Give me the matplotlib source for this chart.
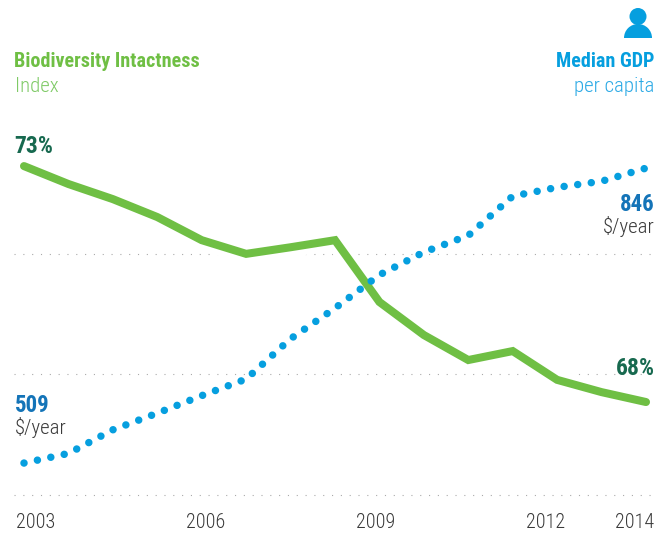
import matplotlib
matplotlib.use('Agg')
import matplotlib.pyplot as plt
from matplotlib.patches import Circle, Wedge

plt.rcParams['lines.scale_dashes'] = False

# one point every 0.786 yr, the source has 15 samples over 2003-2014
steps = list(range(15))
biodiversity = [73.0, 72.62, 72.30, 71.92, 71.43, 71.14, 71.28, 71.43,
                70.12, 69.42, 68.89, 69.08, 68.47, 68.21, 68.0]
gdp = [509, 520, 547, 566, 586, 605, 651, 686, 724, 750, 769, 814, 824, 831, 846]
year_labels = ['2003', '2006', '2009', '2012', '2014']
year_pos = [0.27, 4.09, 7.92, 11.73, 13.74]
grid_levels = [71.14, 68.59, 66.03]

GREEN = '#6fbf44'
LIGHT_GREEN = '#7fca66'
DARK_GREEN = '#17694f'
BLUE = '#069fdf'
LIGHT_BLUE = '#2aa9e5'
DARK_BLUE = '#1474b8'
GREY = '#3a3a3a'
NARROW = ['Roboto Condensed', 'Roboto', 'DejaVu Sans']

fig = plt.figure(figsize=(6.7, 5.33), dpi=100)

# axes box: x 24-646 px, y 134-495 px
ax = fig.add_axes([24 / 670, 38 / 533, 622 / 670, 361 / 533])
ax.set_xlim(0, 14)
ax.set_ylim(66.03, 73.68)
ax.patch.set_alpha(0)
for s in ax.spines.values():
    s.set_visible(False)
ax.set_yticks([])
ax.set_xticks(year_pos)
ax.set_xticklabels(year_labels, fontfamily=NARROW, fontweight=300, fontsize=14.5, color=GREY)
ax.tick_params(axis='x', length=0, pad=13)

ax.hlines(grid_levels, -0.225, 14.18, color='#aaaaaa', lw=0.8,
          linestyles=[(0, (0.8, 5.55))], clip_on=False, zorder=1)
ax.plot(steps, biodiversity, color='white', lw=14.4, solid_capstyle='round',
        clip_on=False, zorder=2)
ax.plot(steps, biodiversity, color=GREEN, lw=5.8, solid_capstyle='round',
        solid_joinstyle='miter', clip_on=False, zorder=3)

ax2 = ax.twinx()
ax2.set_ylim(472.5, 885)
ax2.set_yticks([])
ax2.patch.set_alpha(0)
for s in ax2.spines.values():
    s.set_visible(False)
ax2.plot(steps, gdp, color=BLUE, lw=5.4, linestyle=(0, (0.01, 9.86)),
         dash_capstyle='round', clip_on=False, zorder=4)

# page layer in pixels for the labels and icon
page = fig.add_axes([0, 0, 1, 1])
page.set_xlim(0, 670)
page.set_ylim(533, 0)
page.axis('off')
page.patch.set_alpha(0)


def label(x, y, s, color, size, weight=300, ha='left'):
    page.text(x, y, s, color=color, fontsize=size, ha=ha, va='baseline',
              fontfamily=NARROW, fontweight=weight)


label(14.5, 67, 'Biodiversity Intactness', GREEN, 14.5, 700)
label(15, 92, 'Index', LIGHT_GREEN, 15)
label(14.5, 153, '73%', DARK_GREEN, 17, 700)
label(654, 67, 'Median GDP', BLUE, 14.5, 700, 'right')
label(654, 92, 'per capita', LIGHT_BLUE, 15, ha='right')
label(655, 211, '846', DARK_BLUE, 16.5, 700, 'right')
label(655, 233, '$/year', GREY, 15, ha='right')
label(655, 375, '68%', DARK_GREEN, 17, 700, 'right')
label(15, 412, '509', DARK_BLUE, 16.5, 700)
label(15, 434, '$/year', GREY, 15)

page.add_patch(Circle((638, 16.5), 8.5, color=BLUE, lw=0))
page.add_patch(Wedge((638, 38), 14, 180, 360, color=BLUE, lw=0))

fig.savefig('out.png', dpi=100)
plt.close()
